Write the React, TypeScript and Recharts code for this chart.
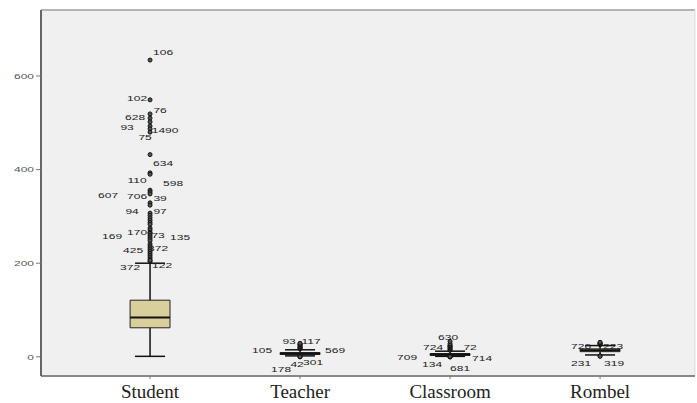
import React from 'react';
import {
  ComposedChart,
  XAxis,
  YAxis,
  Scatter,
  ReferenceArea,
  ReferenceLine,
  CartesianGrid,
} from 'recharts';

// ---- data ----
const categories = ['Student', 'Teacher', 'Classroom', 'Rombel'];
const positions = [1, 2, 3, 4];
const yTicks = [0, 200, 400, 600];

const lowerWhisker = [1, 2, 1, 4];
const q1 = [62, 5, 3, 11];
const median = [84, 7, 5, 14];
const q3 = [121, 9, 7, 17];
const upperWhisker = [200, 15, 12, 24];

// outliers: [value, case id]
const studentOutliers: [number, string][] = [
  [634, '106'], [549, '102'], [519, '76'], [510, '628'], [502, ''],
  [493, '93'], [487, '1490'], [480, '75'], [432, '634'], [393, '110'],
  [390, '598'], [356, '607'], [352, '706'], [348, '39'], [329, '94'],
  [324, '97'], [307, ''], [302, ''], [297, ''], [292, ''], [287, ''],
  [283, ''], [275, '170'], [271, '73'], [266, '169'], [264, '135'],
  [260, ''], [256, ''], [252, ''], [248, ''], [241, '372'], [237, '425'],
  [233, ''], [229, ''], [225, ''], [221, ''], [217, ''], [213, ''],
  [209, ''], [204, '372'], [206, '122'],
];
const teacherOutliers: [number, string][] = [
  [17, ''], [19, '105'], [19, '569'], [21, ''], [23, ''], [25, ''],
  [27, '93'], [27, '117'], [29, ''], [1, '301'], [0, '42'], [0, '178'],
];
const classroomOutliers: [number, string][] = [
  [14, ''], [16, ''], [18, ''], [20, ''], [22, '724'], [23, '72'],
  [25, ''], [28, ''], [33, '630'], [0, '709'], [0, '714'], [0, '134'], [0, '681'],
];
const rombelOutliers: [number, string][] = [
  [26, ''], [28, '726'], [28, '223'], [30, ''], [31, ''], [2, '231'], [1, '319'],
];

// label placement (relative pixel offsets of case-id text from its point)
const studentLabelOffsets: [number, number][] = [
  [13, -8], [-13, -2], [10, -4], [-15, -1], [0, 0],
  [-23, 1], [15, 1], [-5, 5], [13, 9], [-13, 7],
  [23, 9], [-42, 5], [-13, 4], [10, 4], [-18, 8],
  [10, 6], [0, 0], [0, 0], [0, 0], [0, 0], [0, 0],
  [0, 0], [-13, 4], [8, 5], [-38, 4], [30, 4],
  [0, 0], [0, 0], [0, 0], [0, 0], [8, 4], [-17, 4],
  [0, 0], [0, 0], [0, 0], [0, 0], [0, 0], [0, 0],
  [0, 0], [-20, 6], [12, 5],
];
const teacherLabelOffsets: [number, number][] = [
  [0, 0], [-38, 2], [35, 2], [0, 0], [0, 0], [0, 0],
  [-11, -3], [11, -3], [0, 0], [13, 6], [-3, 7], [-19, 12],
];
const classroomLabelOffsets: [number, number][] = [
  [0, 0], [0, 0], [0, 0], [0, 0], [-17, 1], [20, 1],
  [0, 0], [0, 0], [-2, -4], [-43, 0], [32, 1], [-18, 7], [10, 11],
];
const rombelLabelOffsets: [number, number][] = [
  [0, 0], [-19, 3], [13, 3], [0, 0], [0, 0], [-19, 7], [14, 7],
];

const outlierSets = [studentOutliers, teacherOutliers, classroomOutliers, rombelOutliers];
const offsetSets = [studentLabelOffsets, teacherLabelOffsets, classroomLabelOffsets, rombelLabelOffsets];

const X_DOMAIN: [number, number] = [0.273, 4.633];
const Y_DOMAIN: [number, number] = [-41, 741];
const BOX_HALF = 0.133;
const CAP_HALF = 0.1;

const OutlierShape = (props: any) => {
  const { cx, cy, payload } = props;
  if (cx == null || cy == null) return null;
  return (
    <g>
      <circle cx={cx} cy={cy} r={2} fill="#555" stroke="#111" strokeWidth={1} />
      {payload.label ? (
        <text
          transform={`translate(${cx + payload.dx},${cy + payload.dy}) scale(1.5,1)`}
          textAnchor="middle"
          dominantBaseline="central"
          fontFamily="Arial, 'Liberation Sans', sans-serif"
          fontSize={8}
          fill="#222"
        >
          {payload.label}
        </text>
      ) : null}
    </g>
  );
};

const YTick = (props: any) => {
  const { x, y, payload } = props;
  return (
    <text
      transform={`translate(${x},${y}) scale(1.5,1)`}
      textAnchor="end"
      dominantBaseline="central"
      fontFamily="Arial, 'Liberation Sans', sans-serif"
      fontSize={8}
      fill="#555"
    >
      {payload.value}
    </text>
  );
};

const XTick = (props: any) => {
  const { x, y, payload } = props;
  return (
    <text
      x={x}
      y={y}
      dy={15}
      textAnchor="middle"
      fontFamily="'Liberation Serif', 'Times New Roman', serif"
      fontSize={19}
      fill="#222"
    >
      {categories[payload.value - 1]}
    </text>
  );
};

export default function App() {
  return (
    <div style={{ position: 'absolute', left: 0, top: 0, background: '#fff' }}>
      <ComposedChart
        width={697}
        height={403}
        margin={{ top: 10, right: 2, bottom: 0, left: 0 }}
      >
        <CartesianGrid fill="#f0f0f0" stroke="none" horizontal={false} vertical={false} />
        <XAxis
          type="number"
          dataKey="x"
          domain={X_DOMAIN}
          ticks={positions}
          allowDataOverflow
          height={27}
          tickSize={3}
          tickMargin={4}
          axisLine={{ stroke: '#888', strokeWidth: 2 }}
          tickLine={{ stroke: '#777' }}
          tick={<XTick />}
          interval={0}
        />
        <YAxis
          type="number"
          dataKey="y"
          domain={Y_DOMAIN}
          ticks={yTicks}
          allowDataOverflow
          width={41}
          tickSize={5}
          tickMargin={2}
          axisLine={{ stroke: '#666', strokeWidth: 2 }}
          tickLine={{ stroke: '#777' }}
          tick={<YTick />}
        />
        <ReferenceLine y={Y_DOMAIN[1]} stroke="#b5b5b5" strokeWidth={2} />
        <ReferenceLine x={X_DOMAIN[1]} stroke="#dddddd" strokeWidth={1} />
        {positions.map((p, i) => (
          <ReferenceLine
            key={`wl${i}`}
            segment={[{ x: p, y: lowerWhisker[i] }, { x: p, y: q1[i] }]}
            stroke="#111"
            strokeWidth={1.5}
          />
        ))}
        {positions.map((p, i) => (
          <ReferenceLine
            key={`wu${i}`}
            segment={[{ x: p, y: q3[i] }, { x: p, y: upperWhisker[i] }]}
            stroke="#111"
            strokeWidth={1.5}
          />
        ))}
        {positions.map((p, i) => (
          <ReferenceLine
            key={`cl${i}`}
            segment={[{ x: p - CAP_HALF, y: lowerWhisker[i] }, { x: p + CAP_HALF, y: lowerWhisker[i] }]}
            stroke="#111"
            strokeWidth={1.5}
          />
        ))}
        {positions.map((p, i) => (
          <ReferenceLine
            key={`cu${i}`}
            segment={[{ x: p - CAP_HALF, y: upperWhisker[i] }, { x: p + CAP_HALF, y: upperWhisker[i] }]}
            stroke="#111"
            strokeWidth={1.5}
          />
        ))}
        {positions.map((p, i) => (
          <ReferenceArea
            key={`box${i}`}
            x1={p - BOX_HALF}
            x2={p + BOX_HALF}
            y1={q1[i]}
            y2={q3[i]}
            fill="#d9cf9b"
            fillOpacity={1}
            stroke="#222"
            strokeWidth={1}
          />
        ))}
        {positions.map((p, i) => (
          <ReferenceLine
            key={`md${i}`}
            segment={[{ x: p - BOX_HALF, y: median[i] }, { x: p + BOX_HALF, y: median[i] }]}
            stroke="#111"
            strokeWidth={2}
          />
        ))}
        {outlierSets.map((set, i) => (
          <Scatter
            key={`out${i}`}
            data={set.map(([v, id], j) => ({
              x: positions[i],
              y: v,
              label: id,
              dx: offsetSets[i][j][0],
              dy: offsetSets[i][j][1],
            }))}
            shape={<OutlierShape />}
            isAnimationActive={false}
          />
        ))}
      </ComposedChart>
    </div>
  );
}
